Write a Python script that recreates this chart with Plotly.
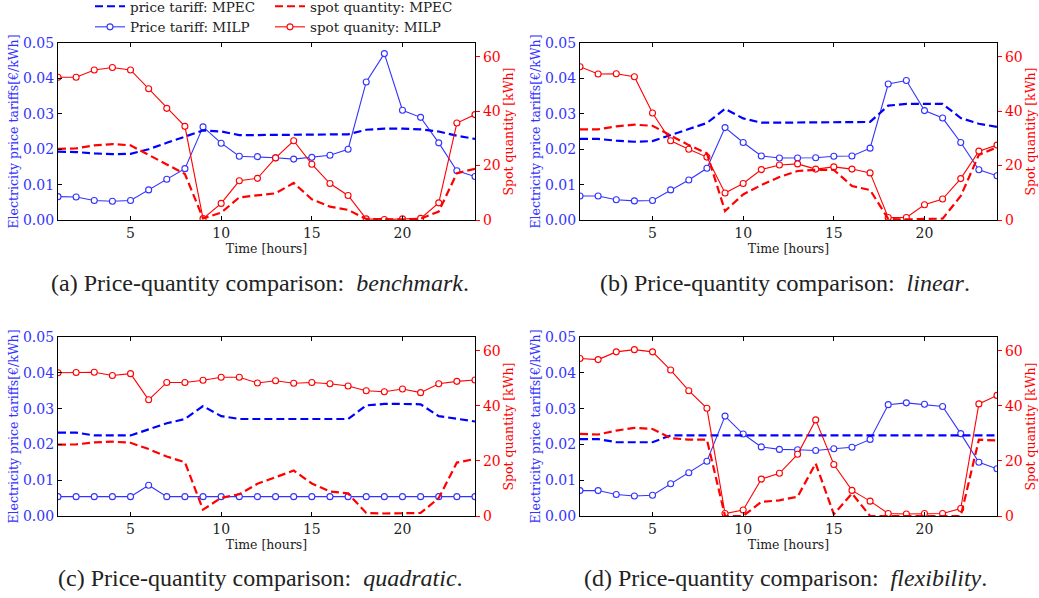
import plotly.graph_objects as go

hours = list(range(1, 25))

# (a) benchmark
a_price_mpec = [0.0193, 0.0192, 0.0188, 0.0186, 0.0187, 0.0200, 0.0218, 0.0236, 0.0253, 0.0250, 0.0240, 0.0240,
                0.0240, 0.0240, 0.0240, 0.0240, 0.0242, 0.0255, 0.0258, 0.0258, 0.0256, 0.0250, 0.0238, 0.0229]
a_price_milp = [0.0066, 0.0065, 0.0055, 0.0053, 0.0055, 0.0085, 0.0115, 0.0145, 0.0263, 0.0217, 0.0180, 0.0179,
                0.0176, 0.0172, 0.0177, 0.0183, 0.0200, 0.0390, 0.0470, 0.0310, 0.0290, 0.0218, 0.0139, 0.0123]
a_spot_mpec = [26.1, 26.3, 27.4, 27.9, 27.4, 23.9, 20.2, 16.9, 0.6, 2.7, 8.3, 9.0,
               9.8, 13.6, 7.6, 4.9, 3.7, 0.4, 0.2, 0.2, 0.5, 3.1, 17.2, 18.8]
a_spot_milp = [52.4, 52.4, 55.1, 56.0, 55.1, 48.2, 41.0, 34.4, 0.5, 6.1, 14.4, 15.3,
               22.8, 29.1, 20.5, 13.4, 9.0, 0.4, 0.2, 0.4, 0.6, 6.3, 35.6, 38.7]

# (b) linear
b_price_mpec = [0.0229, 0.0229, 0.0224, 0.0221, 0.0223, 0.0239, 0.0257, 0.0274, 0.0314, 0.0287, 0.0275, 0.0275,
                0.0275, 0.0275, 0.0275, 0.0275, 0.0277, 0.0323, 0.0328, 0.0328, 0.0328, 0.0288, 0.0272, 0.0263]
b_price_milp = [0.0068, 0.0068, 0.0057, 0.0054, 0.0055, 0.0085, 0.0113, 0.0146, 0.0261, 0.0219, 0.0181, 0.0175,
                0.0175, 0.0176, 0.0180, 0.0181, 0.0203, 0.0384, 0.0394, 0.0309, 0.0288, 0.0219, 0.0142, 0.0125]
b_spot_mpec = [33.3, 33.3, 34.4, 35.0, 34.6, 30.9, 27.5, 24.5, 3.3, 9.4, 12.8, 15.8,
               18.0, 18.4, 18.4, 12.5, 11.0, 0.4, 0.2, 0.4, 0.5, 8.8, 23.9, 26.7]
b_spot_milp = [56.3, 53.6, 53.7, 52.6, 39.3, 29.1, 26.0, 23.1, 9.9, 13.4, 18.5, 20.2,
               20.6, 18.7, 19.5, 18.7, 17.3, 0.9, 0.9, 5.6, 7.7, 15.2, 25.3, 27.5]

# (c) quadratic
c_price_mpec = [0.0233, 0.0233, 0.0225, 0.0224, 0.0225, 0.0242, 0.0259, 0.0271, 0.0307, 0.0279, 0.0271, 0.0271,
                0.0271, 0.0271, 0.0271, 0.0271, 0.0271, 0.0309, 0.0313, 0.0313, 0.0312, 0.0279, 0.0271, 0.0264]
c_price_milp = [0.0054, 0.0054, 0.0054, 0.0054, 0.0054, 0.0086, 0.0054, 0.0054, 0.0054, 0.0054, 0.0054, 0.0054,
                0.0054, 0.0054, 0.0054, 0.0054, 0.0054, 0.0054, 0.0054, 0.0054, 0.0054, 0.0054, 0.0054, 0.0054]
c_spot_mpec = [25.9, 26.0, 26.7, 27.0, 26.6, 24.3, 21.6, 19.5, 2.3, 6.6, 7.9, 11.7,
               14.1, 16.5, 11.8, 8.9, 8.2, 1.1, 0.9, 0.9, 1.1, 6.5, 19.4, 20.7]
c_spot_milp = [52.0, 52.1, 52.2, 51.0, 51.7, 42.2, 48.5, 48.5, 49.3, 50.4, 50.4, 48.3,
               49.1, 48.2, 48.5, 48.0, 47.2, 45.5, 45.1, 46.1, 44.8, 48.0, 48.9, 49.4]

# (d) flexibility
d_price_mpec = [0.0215, 0.0215, 0.0206, 0.0205, 0.0206, 0.0225, 0.0225, 0.0225, 0.0225, 0.0225, 0.0225, 0.0225,
                0.0225, 0.0225, 0.0225, 0.0225, 0.0225, 0.0225, 0.0225, 0.0225, 0.0225, 0.0225, 0.0225, 0.0225]
d_price_milp = [0.0071, 0.0071, 0.0060, 0.0056, 0.0058, 0.0090, 0.0121, 0.0153, 0.0279, 0.0229, 0.0193, 0.0186,
                0.0185, 0.0183, 0.0188, 0.0192, 0.0214, 0.0311, 0.0316, 0.0312, 0.0306, 0.0230, 0.0150, 0.0132]
d_spot_mpec = [29.8, 29.6, 31.0, 32.0, 31.6, 28.3, 27.7, 27.7, 0.0, 0.0, 5.1, 5.7,
               7.0, 19.1, 0.6, 8.2, 0.0, 0.0, 0.0, 0.0, 0.0, 0.0, 27.7, 27.4]
d_spot_milp = [57.2, 56.8, 59.6, 60.4, 59.6, 53.0, 45.5, 39.1, 0.9, 2.2, 13.4, 15.5,
               22.4, 34.9, 18.7, 9.3, 5.4, 0.9, 0.7, 0.9, 0.9, 2.7, 40.7, 43.8]

panel_names = ["benchmark", "linear", "quadratic", "flexibility"]
panel_letters = ["a", "b", "c", "d"]
left_ticks = [0.0, 0.01, 0.02, 0.03, 0.04, 0.05]
right_ticks = [0, 20, 40, 60]
x_ticks = [5, 10, 15, 20]

legend_names = ["price tariff: MPEC", "Price tariff: MILP", "spot quantity: MPEC", "spot quanity: MILP"]

panels = [
    (a_price_mpec, a_price_milp, a_spot_mpec, a_spot_milp),
    (b_price_mpec, b_price_milp, b_spot_mpec, b_spot_milp),
    (c_price_mpec, c_price_milp, c_spot_mpec, c_spot_milp),
    (d_price_mpec, d_price_milp, d_spot_mpec, d_spot_milp),
]

W, H = 1039, 598
# pixel boxes of the plot areas: (left, right, top, bottom)
boxes = [(58, 475, 43, 220), (580, 997, 43, 220), (58, 475, 337, 516), (580, 997, 337, 516)]
caption_pos = [(260, 283), (785, 283), (260, 578), (785, 578)]

BLUE = "#0000ff"
BLUE_L = "#3333ff"
RED = "#ff0000"
SERIF = "DejaVu Serif"

fig = go.Figure()
layout = {}
for i, (pm, pl, sm, sl) in enumerate(panels):
    xa = "x" if i == 0 else f"x{i+1}"
    yl = "y" if i == 0 else f"y{i+1}"
    yr = f"y{i+5}"
    show = i == 0
    fig.add_trace(go.Scatter(x=hours, y=pl, xaxis=xa, yaxis=yl, mode="lines+markers",
                             name=legend_names[1], showlegend=show, legend="legend", legendrank=2,
                             line=dict(color=BLUE_L, width=1.1),
                             marker=dict(symbol="circle", size=6, color="white",
                                         line=dict(color=BLUE_L, width=1.1))))
    fig.add_trace(go.Scatter(x=hours, y=pm, xaxis=xa, yaxis=yl, mode="lines",
                             name=legend_names[0], showlegend=show, legend="legend", legendrank=1,
                             line=dict(color=BLUE, width=2.2, dash="8px,4px")))
    fig.add_trace(go.Scatter(x=hours, y=sl, xaxis=xa, yaxis=yr, mode="lines+markers",
                             name=legend_names[3], showlegend=show, legend="legend2", legendrank=2,
                             line=dict(color=RED, width=1.1),
                             marker=dict(symbol="circle", size=6, color="white",
                                         line=dict(color=RED, width=1.1))))
    fig.add_trace(go.Scatter(x=hours, y=sm, xaxis=xa, yaxis=yr, mode="lines",
                             name=legend_names[2], showlegend=show, legend="legend2", legendrank=1,
                             line=dict(color=RED, width=2.2, dash="8px,4px")))

    l, r, t, b = boxes[i]
    xdom = [l / W, r / W]
    ydom = [1 - b / H, 1 - t / H]
    xkey = "xaxis" if i == 0 else f"xaxis{i+1}"
    ylkey = "yaxis" if i == 0 else f"yaxis{i+1}"
    yrkey = f"yaxis{i+5}"
    layout[xkey] = dict(domain=xdom, anchor=yl, range=[1, 24], tickvals=x_ticks, automargin=False,
                        showline=True, linecolor="black", linewidth=1.3, mirror="ticks",
                        ticks="inside", ticklen=4, tickcolor="black", showgrid=False, zeroline=False,
                        tickfont=dict(family=SERIF, size=14, color="#222"),
                        title=dict(text="Time [hours]", font=dict(family=SERIF, size=12.5, color="#222"),
                                   standoff=0))
    layout[ylkey] = dict(domain=ydom, anchor=xa, range=[0, 0.05], tickvals=left_ticks, automargin=False,
                         tickformat=".2f", showline=True, linecolor="black", linewidth=1.3,
                         ticks="inside", ticklen=4, tickcolor="black", showgrid=False, zeroline=False,
                         tickfont=dict(family=SERIF, size=14, color=BLUE_L),
                         title=dict(text="Electricity price tariffs[€/kWh]",
                                    font=dict(family=SERIF, size=12.5, color=BLUE_L), standoff=1))
    layout[yrkey] = dict(domain=ydom, anchor=xa, overlaying=yl, side="right", range=[0, 65],
                         tickvals=right_ticks, showline=True, linecolor="black", linewidth=1.3,
                         automargin=False,
                         ticks="outside", ticklen=4, tickcolor=RED, showgrid=False, zeroline=False,
                         tickfont=dict(family=SERIF, size=14, color=RED),
                         title=dict(text="Spot quantity [kWh]",
                                    font=dict(family=SERIF, size=12.5, color=RED), standoff=2))

annotations = []
for i, name in enumerate(panel_names):
    cx, cy = caption_pos[i]
    annotations.append(dict(
        x=cx / W, y=1 - cy / H, xref="paper", yref="paper", xanchor="center", yanchor="middle",
        showarrow=False,
        text=f"({panel_letters[i]}) Price-quantity comparison:  <i>{name}</i>.",
        font=dict(family="Liberation Serif", size=24, color="#222")))

fig.update_layout(
    width=W, height=H,
    margin=dict(l=0, r=0, t=0, b=0, autoexpand=False),
    paper_bgcolor="white", plot_bgcolor="white",
    annotations=annotations,
    legend=dict(x=90 / W, y=1 + 9 / H, xanchor="left", yanchor="top",
                orientation="v", bgcolor="rgba(0,0,0,0)", itemwidth=30, tracegroupgap=0,
                font=dict(family=SERIF, size=13.5, color="#222")),
    legend2=dict(x=270 / W, y=1 + 9 / H, xanchor="left", yanchor="top",
                 orientation="v", bgcolor="rgba(0,0,0,0)", itemwidth=30, tracegroupgap=0,
                 font=dict(family=SERIF, size=13.5, color="#222")),
    **layout,
)

fig.write_html("out.html", config={"displayModeBar": False},
               post_script="document.body.style.margin='0px';document.body.style.overflow='hidden';")
